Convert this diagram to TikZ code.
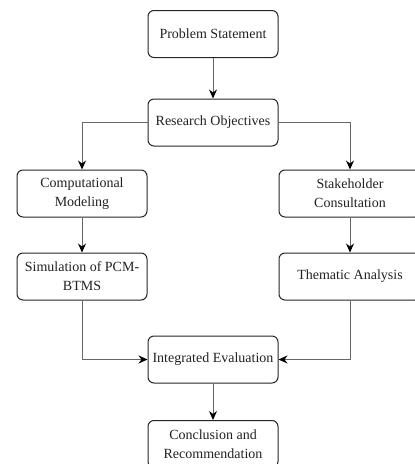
\documentclass[tikz,border=0pt]{standalone}
\usepackage{fontspec}
\setmainfont{Liberation Serif}
\usetikzlibrary{arrows.meta}
\definecolor{txt}{HTML}{222222}
\definecolor{edge}{HTML}{666666}
\begin{document}
\begin{tikzpicture}[x=1pt,y=-1pt,
  box/.style={draw=black!85, line width=1pt, rounded corners=6pt, fill=white,
    minimum width=#1, minimum height=47pt, align=center, inner sep=2pt,
    font=\fontsize{14}{19}\selectfont, text=txt},
  box/.default=130pt,
  conn/.style={draw=edge, line width=0.9pt, -{Stealth[length=9pt,width=8pt,inset=3pt,color=black]}}]
\useasboundingbox (0,0) rectangle (415,464);
\clip (0,0) rectangle (415,464);
\node[box] (ps) at (213,34) {Problem Statement};
\node[box] (ro) at (213,122.5) {Research Objectives};
\node[box] (cm) at (82,193.5) {Computational\\Modeling};
\node[box=142pt] (sc) at (350,193.5) {Stakeholder\\Consultation};
\node[box] (sim) at (82,276.5) {Simulation of PCM-\\BTMS};
\node[box=142pt] (ta) at (350,276.5) {Thematic Analysis};
\node[box] (ie) at (213,359.5) {Integrated Evaluation};
\node[box] (cr) at (213,444) {Conclusion and\\Recommendation};
\draw[conn] (ps) -- (ro);
\draw[conn] (ro.west) -| (cm.north);
\draw[conn] (ro.east) -| (sc.north);
\draw[conn] (cm) -- (sim);
\draw[conn] (sc) -- (ta);
\draw[conn] (sim.south) |- (ie.west);
\draw[conn] (ta.south) |- (ie.east);
\draw[conn] (ie) -- (cr);
\end{tikzpicture}
\end{document}
